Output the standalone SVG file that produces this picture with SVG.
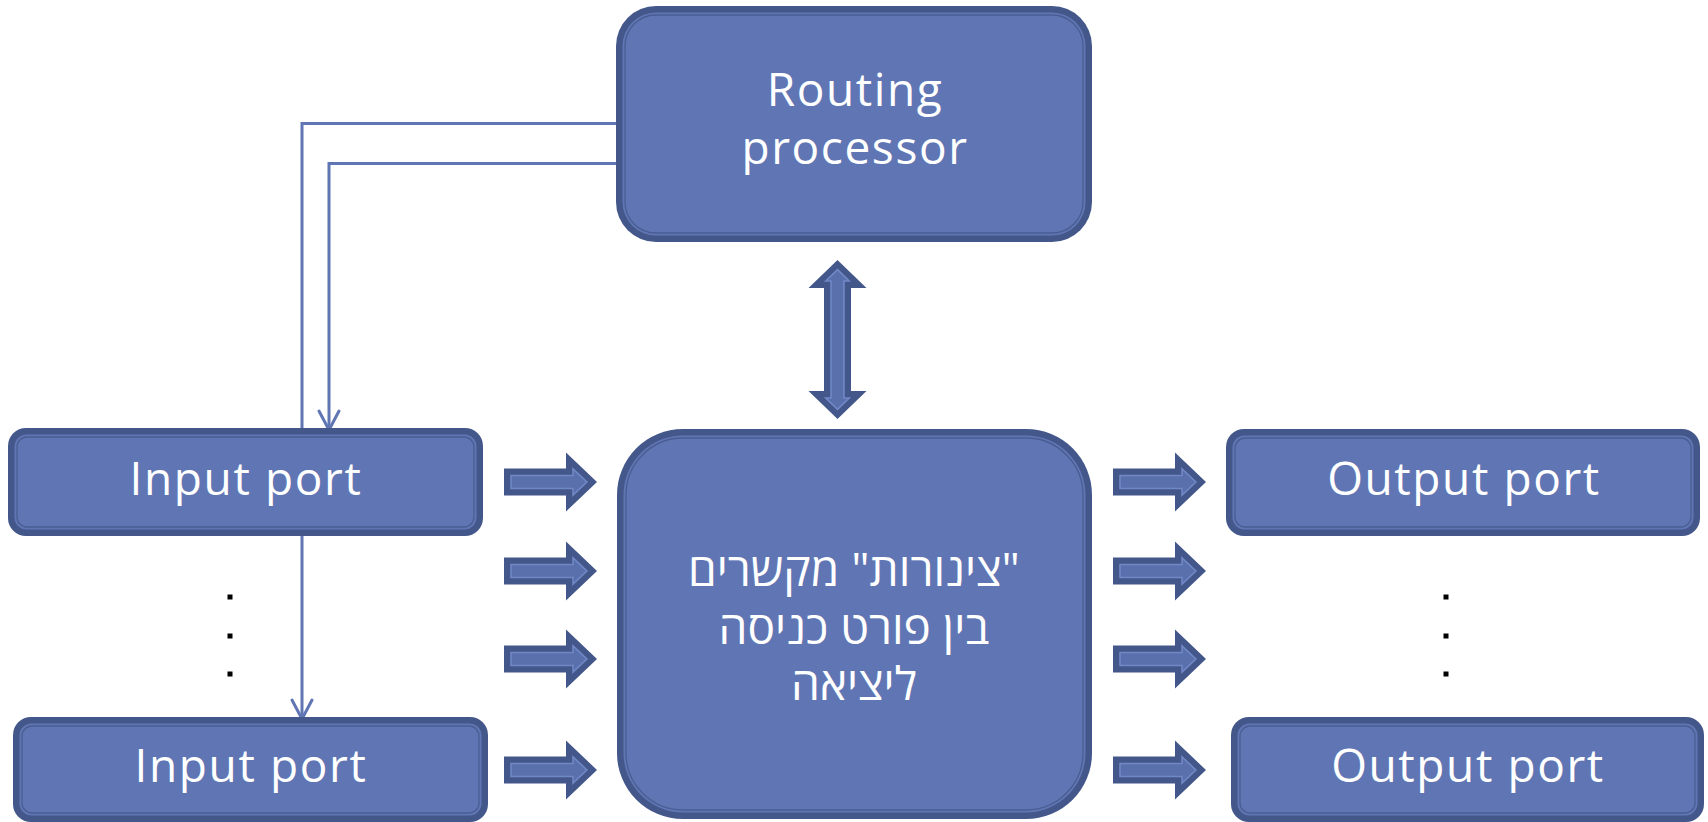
<svg xmlns="http://www.w3.org/2000/svg" width="1708" height="822" viewBox="0 0 1708 822">
<style>
.outer{fill:#44578a}
.fill{fill:#6076b4}
.inner{fill:none;stroke:#4a5d92;stroke-width:1.3}
.lbl{fill:#ffffff;font-family:"Open Sans","DejaVu Sans",sans-serif;font-size:46px;letter-spacing:1.6px;text-anchor:middle}
.heb{direction:rtl;unicode-bidi:embed;letter-spacing:0}
.conn{fill:none;stroke:#6076b4;stroke-width:3;stroke-linejoin:miter}
.head{fill:none;stroke:#6076b4;stroke-width:3;stroke-linecap:round;stroke-linejoin:round}
.bo{fill:#44578a}
.bi{fill:#5a70ad;stroke:#7088c6;stroke-width:1.6}
.dot{fill:#000000}
</style>
<defs>
<g id="rarrow">
<path class="bo" d="M0,-13.5 L62,-13.5 L62,-29.5 L93,0 L62,29.5 L62,13.5 L0,13.5 Z"/>
<path class="bi" d="M7,-6.5 L69,-6.5 L69,-13.2 L82.9,0 L69,13.2 L69,6.5 L7,6.5 Z"/>
</g>
</defs>

<g id="connectors">
<polyline class="conn" points="622,123.5 302,123.5 302,718"/>
<polyline class="head" points="292,700 302,719 312,700"/>
<polyline class="conn" points="622,163.5 329,163.5 329,429"/>
<polyline class="head" points="319,411 329,430 339,411"/>
</g>

<g id="routing-processor">
<rect class="outer" x="616" y="6" width="476" height="236" rx="40"/>
<rect class="fill" x="622.5" y="12.5" width="463" height="223" rx="33.5"/>
<rect class="inner" x="625" y="15" width="458" height="218" rx="31"/>
<text class="lbl" x="855" y="106">Routing</text>
<text class="lbl" x="855" y="164">processor</text>
</g>

<g id="bidir-arrow">
<path class="bo" d="M837.5,260 L866.5,288 L851,288 L851,391 L866.5,391 L837.5,419 L808.5,391 L824,391 L824,288 L808.5,288 Z"/>
<path class="bi" d="M837.5,269.7 L849.2,281 L844,281 L844,398 L849.2,398 L837.5,409.3 L825.8,398 L831,398 L831,281 L825.8,281 Z"/>
</g>

<g id="input-port-1">
<rect class="outer" x="8" y="428" width="475" height="108" rx="18"/>
<rect class="fill" x="14.5" y="434.5" width="462" height="95" rx="12"/>
<rect class="inner" x="17" y="437" width="457" height="90" rx="10"/>
<text class="lbl" x="246" y="495">Input port</text>
</g>

<g id="input-port-2">
<rect class="outer" x="13" y="717" width="475" height="105" rx="18"/>
<rect class="fill" x="19.5" y="723.5" width="462" height="92" rx="12"/>
<rect class="inner" x="22" y="726" width="457" height="87" rx="10"/>
<text class="lbl" x="251" y="782">Input port</text>
</g>

<g id="switch-fabric">
<rect class="outer" x="617" y="429" width="475" height="390" rx="66"/>
<rect class="fill" x="623.5" y="435.5" width="462" height="377" rx="59.5"/>
<rect class="inner" x="626" y="438" width="457" height="372" rx="57"/>
<text class="lbl heb" x="854" y="586" direction="rtl">"צינורות" מקשרים</text>
<text class="lbl heb" x="854" y="644" direction="rtl">בין פורט כניסה</text>
<text class="lbl heb" x="854" y="700" direction="rtl">ליציאה</text>
</g>

<g id="output-port-1">
<rect class="outer" x="1226" y="429" width="474" height="107" rx="18"/>
<rect class="fill" x="1232.5" y="435.5" width="461" height="94" rx="12"/>
<rect class="inner" x="1235" y="438" width="456" height="89" rx="10"/>
<text class="lbl" x="1464" y="495">Output port</text>
</g>

<g id="output-port-2">
<rect class="outer" x="1231" y="717" width="473" height="105" rx="18"/>
<rect class="fill" x="1237.5" y="723.5" width="460" height="92" rx="12"/>
<rect class="inner" x="1240" y="726" width="455" height="87" rx="10"/>
<text class="lbl" x="1468" y="782">Output port</text>
</g>

<g id="input-arrows">
<use href="#rarrow" transform="translate(504,482)"/>
<use href="#rarrow" transform="translate(504,571)"/>
<use href="#rarrow" transform="translate(504,659)"/>
<use href="#rarrow" transform="translate(504,770)"/>
</g>
<g id="output-arrows">
<use href="#rarrow" transform="translate(1113,482)"/>
<use href="#rarrow" transform="translate(1113,571)"/>
<use href="#rarrow" transform="translate(1113,659)"/>
<use href="#rarrow" transform="translate(1113,770)"/>
</g>

<g id="ellipsis-left">
<rect class="dot" x="227.5" y="594.5" width="5" height="5"/>
<rect class="dot" x="227.5" y="633.5" width="5" height="5"/>
<rect class="dot" x="227.5" y="671.5" width="5" height="5"/>
</g>
<g id="ellipsis-right">
<rect class="dot" x="1443.5" y="594.5" width="5" height="5"/>
<rect class="dot" x="1443.5" y="633.5" width="5" height="5"/>
<rect class="dot" x="1443.5" y="671.5" width="5" height="5"/>
</g>
</svg>
